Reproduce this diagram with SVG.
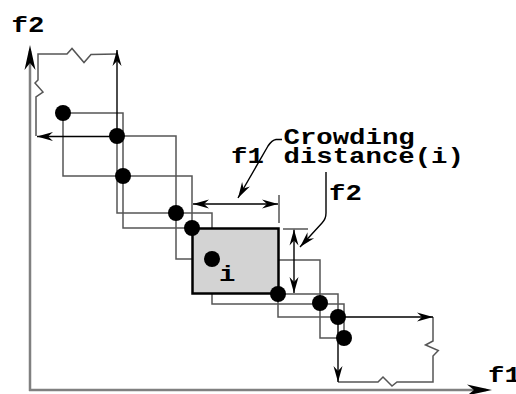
<svg xmlns="http://www.w3.org/2000/svg" width="516" height="394" viewBox="0 0 516 394">
<style>
.ax{fill:none;stroke:#808080;stroke-width:2.5}
.cb{fill:none;stroke:#555;stroke-width:1.5}
.ar{fill:none;stroke:#000;stroke-width:1.4}
.tk{fill:none;stroke:#555;stroke-width:1.5}
.pt{fill:#000}
.t{font-family:"Liberation Mono","Courier New",monospace;font-weight:bold;font-size:22px;fill:#000}
</style>
<defs>
<marker id="ah" viewBox="-17 -6 20 12" refX="0" refY="0" markerWidth="20" markerHeight="12" markerUnits="userSpaceOnUse" orient="auto-start-reverse" overflow="visible">
<path d="M0,0 L-16,-4.5 L-11,0 L-16,4.5 Z" fill="#000"/>
</marker>
<marker id="axh" viewBox="-27 -7 30 14" refX="-6" refY="0" markerWidth="30" markerHeight="14" markerUnits="userSpaceOnUse" orient="auto" overflow="visible">
<path d="M0,0 L-25,-5.5 L-18,0 L-25,5.5 Z" fill="#000"/>
</marker>
</defs>
<g id="axes">
<path class="ax" d="M30,391 L30,51" marker-end="url(#axh)"/>
<path class="ax" d="M29,390 L486,390" marker-end="url(#axh)"/>
</g>
<g id="connectors">
<path class="cb" d="M36,136 L36,97 L43,92 L35,83 L38,80 L38,54 L67,54 L72,48.5 L84,62.5 L91,54.5 L117,54"/>
<path class="cb" d="M338,382 L378,382 L383,377 L392,386 L397,382 L433,382 L433,356 L438.3,350.5 L425.5,345 L433,341 L433,317"/>
<rect class="cb" x="63" y="113" width="60" height="63"/>
<rect class="cb" x="117" y="136" width="59" height="77"/>
<rect class="cb" x="123" y="176" width="69" height="52"/>
<rect class="cb" x="176" y="213" width="36" height="46"/>
<rect class="cb" x="212" y="260" width="108" height="44"/>
<rect class="cb" x="278" y="294" width="60" height="23"/>
<rect class="cb" x="320" y="304" width="24" height="34"/>
<rect x="192.5" y="228.5" width="86" height="65" fill="#d3d3d3" stroke="#000" stroke-width="2.5"/>
<path class="ar" d="M117,136 L117,50" marker-end="url(#ah)"/>
<path class="ar" d="M117,136.5 L37,136.5" marker-end="url(#ah)"/>
<path class="ar" d="M338,317 L433,317" marker-end="url(#ah)"/>
<path class="ar" d="M338,317 L338,382" marker-end="url(#ah)"/>
<path class="ar" d="M193,204 L278,204" marker-start="url(#ah)" marker-end="url(#ah)"/>
<path class="tk" d="M279,195 L279,223"/>
<path class="ar" d="M294,229.5 L294,293" marker-start="url(#ah)" marker-end="url(#ah)"/>
<path class="tk" d="M283,229 L308,229"/>
<path class="ar" d="M282,139.5 L276,139.5 Q272,140 268,146 L238,198" marker-end="url(#ah)"/>
<path class="ar" d="M326,172 L326,213 Q326,219 322,223 L300,247" marker-end="url(#ah)"/>
</g>
<g id="p1"><circle class="pt" cx="63" cy="113" r="8"/></g>
<g id="p2"><circle class="pt" cx="117" cy="136" r="8"/></g>
<g id="p3"><circle class="pt" cx="123" cy="176" r="8"/></g>
<g id="p4"><circle class="pt" cx="176" cy="213" r="8"/></g>
<g id="p5"><circle class="pt" cx="192" cy="228" r="8"/></g>
<g id="p6"><circle class="pt" cx="212" cy="259" r="8"/><text class="t" x="219" y="281" textLength="16.4" lengthAdjust="spacingAndGlyphs">i</text></g>
<g id="p7"><circle class="pt" cx="278" cy="294" r="8"/></g>
<g id="p8"><circle class="pt" cx="320" cy="303" r="8"/></g>
<g id="p9"><circle class="pt" cx="338" cy="317" r="8"/></g>
<g id="p10"><circle class="pt" cx="344" cy="338" r="8"/></g>
<g id="labels">
<text class="t" x="11.5" y="32" textLength="32.8" lengthAdjust="spacingAndGlyphs">f2</text>
<text class="t" x="488" y="382" textLength="32.8" lengthAdjust="spacingAndGlyphs">f1</text>
<text class="t" x="231" y="163" textLength="32.8" lengthAdjust="spacingAndGlyphs">f1</text>
<text class="t" x="329" y="200" textLength="32.8" lengthAdjust="spacingAndGlyphs">f2</text>
<text class="t" x="283.5" y="144" textLength="131.2" lengthAdjust="spacingAndGlyphs">Crowding</text>
<text class="t" x="283.5" y="163" textLength="180.4" lengthAdjust="spacingAndGlyphs">distance(i)</text>
</g>
</svg>
